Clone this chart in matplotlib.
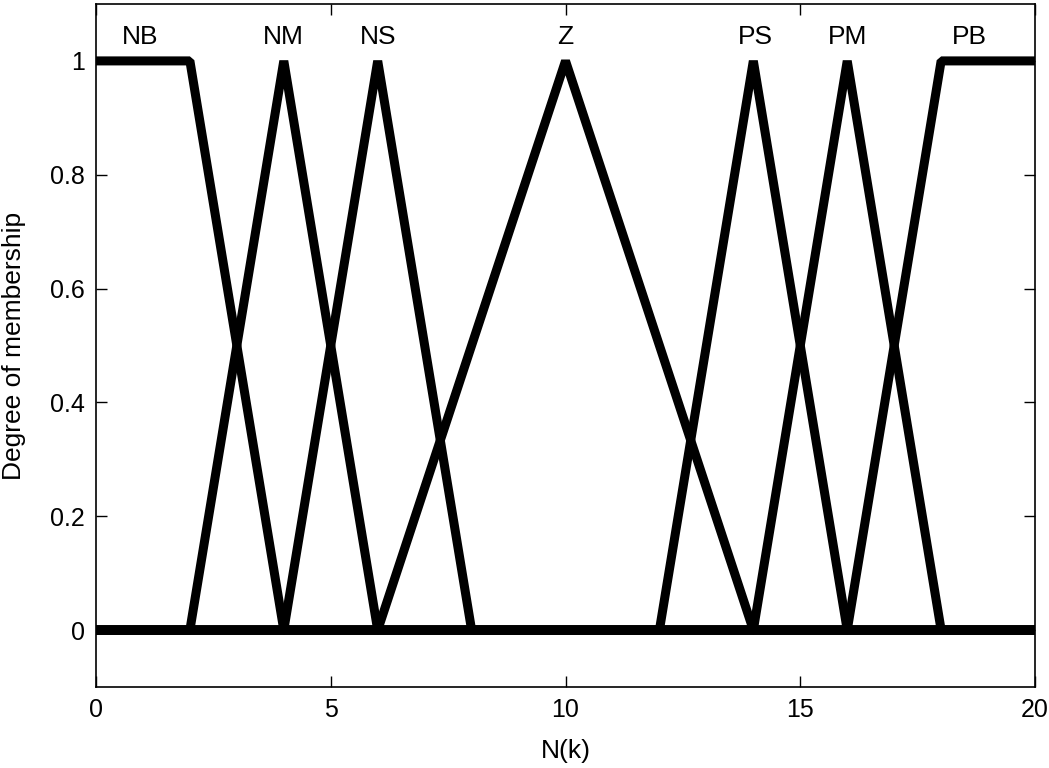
import matplotlib
matplotlib.use("Agg")
import matplotlib.pyplot as plt
import numpy as np

plt.rcParams['font.family'] = ['Liberation Sans', 'DejaVu Sans']

# membership functions: breakpoints over N(k)
names = ['NB', 'NM', 'NS', 'Z', 'PS', 'PM', 'PB']
mf_x = [
    [0, 2, 4, 20],
    [0, 2, 4, 6, 20],
    [0, 4, 6, 8, 20],
    [0, 6, 10, 14, 20],
    [0, 12, 14, 16, 20],
    [0, 14, 16, 18, 20],
    [0, 16, 18, 20],
]
mf_y = [
    [1, 1, 0, 0],
    [0, 0, 1, 0, 0],
    [0, 0, 1, 0, 0],
    [0, 0, 1, 0, 0],
    [0, 0, 1, 0, 0],
    [0, 0, 1, 0, 0],
    [0, 0, 1, 1],
]
label_x = [0.93, 3.98, 6.0, 10.0, 14.04, 16.0, 18.6]
label_y = 1.042

fig = plt.figure(figsize=(10.49, 7.68), dpi=100)
ax = fig.add_axes([0.0915, 0.1055, 0.8952, 0.8893])

for x, y in zip(mf_x, mf_y):
    ax.plot(x, y, color='black', linewidth=6.5, solid_joinstyle='bevel',
            solid_capstyle='butt')

for name, lx in zip(names, label_x):
    ax.text(lx, label_y, name, ha='center', va='center', fontsize=19)

ax.set_xlim(0, 20)
ax.set_ylim(-0.1, 1.1)
ax.set_xticks([0, 5, 10, 15, 20])
ax.set_yticks([0, 0.2, 0.4, 0.6, 0.8, 1])
ax.set_yticklabels(['0', '0.2', '0.4', '0.6', '0.8', '1'])
ax.tick_params(direction='in', length=8, width=1, top=True, right=True,
               labelsize=18, pad=8)
for s in ax.spines.values():
    s.set_linewidth(1.2)

ax.set_xlabel('N(k)', fontsize=19, labelpad=12)
ax.set_ylabel('Degree of membership', fontsize=19, labelpad=17)

fig.savefig('out.png', dpi=100)
